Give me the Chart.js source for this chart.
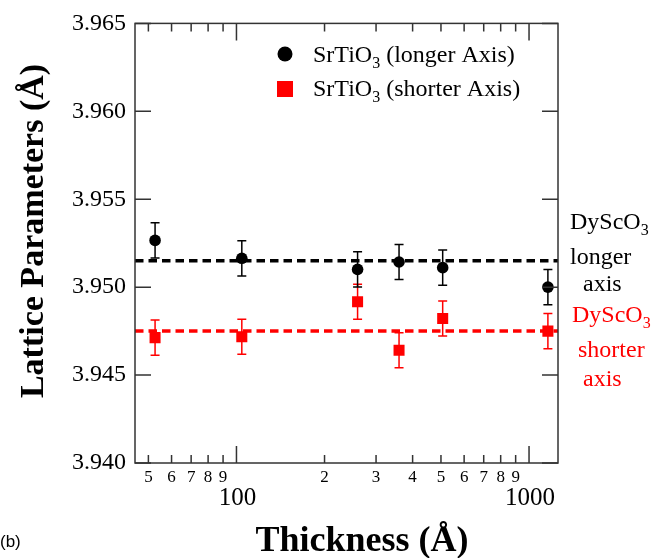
<!DOCTYPE html>
<html><head><meta charset="utf-8">
<script src="https://cdn.jsdelivr.net/npm/chart.js@4/dist/chart.umd.min.js"></script>
<style>html,body{margin:0;padding:0;background:#fff}canvas{display:block}</style>
</head><body>
<canvas id="c" width="663" height="558"></canvas>
<script>
// ---- data ----
const thickness   = [52.7, 104.3, 259.4, 359.5, 506.8, 1160];
const longerAxis  = [3.95266, 3.95164, 3.95101, 3.95143, 3.95111, 3.95000];
const longerErr   = [0.0010, 0.0010, 0.0010, 0.0010, 0.0010, 0.0010];
const shorterAxis = [3.94713, 3.94718, 3.94917, 3.94641, 3.94822, 3.94750];
const shorterErr  = [0.0010, 0.0010, 0.0010, 0.0010, 0.0010, 0.0010];
const dyscoLonger  = 3.9515;
const dyscoShorter = 3.9475;
const xRange = [45, 1256];
const yTicks = [3.940, 3.945, 3.950, 3.955, 3.960, 3.965];
const xMajorTicks  = [100, 1000];
const xMajorLabels = ['100', '1000'];
const xMinorTicks  = [50, 60, 70, 80, 90, 200, 300, 400, 500, 600, 700, 800, 900];
const xMinorLabels = ['5', '6', '7', '8', '9', '2', '3', '4', '5', '6', '7', '8', '9'];
const seriesLabels = ['SrTiO₃ (longer Axis)', 'SrTiO₃ (shorter Axis)'];
const refLabels = [['DyScO₃', 'longer', 'axis'], ['DyScO₃', 'shorter', 'axis']];
const xTitle = 'Thickness (Å)';
const yTitle = 'Lattice Parameters (Å)';
const panelLabel = '(b)';

const SERIF = '"Liberation Serif", "Times New Roman", serif';
const SANS = '"Liberation Sans", Arial, sans-serif';
const RED = '#ff0000';

function richWidth(ctx, str, size, bold) {
  let w = 0;
  for (const part of str.split(/(₃)/)) {
    if (!part) continue;
    if (part === '₃') { ctx.font = (bold ? 'bold ' : '') + Math.round(size * 0.66) + 'px ' + SERIF; w += ctx.measureText('3').width; }
    else { ctx.font = (bold ? 'bold ' : '') + size + 'px ' + SERIF; w += ctx.measureText(part).width; }
  }
  return w;
}
function drawRich(ctx, str, x, y, size, color, align) {
  ctx.save();
  ctx.fillStyle = color; ctx.textBaseline = 'alphabetic'; ctx.textAlign = 'left';
  let cx = x;
  if (align === 'center') cx = x - richWidth(ctx, str, size) / 2;
  for (const part of str.split(/(₃)/)) {
    if (!part) continue;
    if (part === '₃') {
      ctx.font = Math.round(size * 0.66) + 'px ' + SERIF;
      ctx.fillText('3', cx, y + size * 0.26);
      cx += ctx.measureText('3').width;
    } else {
      ctx.font = size + 'px ' + SERIF;
      ctx.fillText(part, cx, y);
      cx += ctx.measureText(part).width;
    }
  }
  ctx.restore();
}

const errorBars = {
  id: 'errorBars',
  beforeDatasetDraw(chart, args) {
    const ds = chart.data.datasets[args.index];
    if (!ds.errors) return;
    const ctx = chart.ctx, xs = chart.scales.x, ys = chart.scales.y;
    ctx.save();
    ctx.strokeStyle = ds.borderColor; ctx.lineWidth = 1.5;
    ds.data.forEach((p, i) => {
      const px = xs.getPixelForValue(p.x);
      const top = ys.getPixelForValue(p.y + ds.errors[i]);
      const bot = ys.getPixelForValue(p.y - ds.errors[i]);
      ctx.beginPath();
      ctx.moveTo(px, top); ctx.lineTo(px, bot);
      ctx.moveTo(px - 4.5, top); ctx.lineTo(px + 4.5, top);
      ctx.moveTo(px - 4.5, bot); ctx.lineTo(px + 4.5, bot);
      ctx.stroke();
    });
    ctx.restore();
  }
};

const decorations = {
  id: 'decorations',
  afterDraw(chart) {
    const ctx = chart.ctx, a = chart.chartArea, xs = chart.scales.x, ys = chart.scales.y;
    ctx.save();
    // frame
    ctx.strokeStyle = '#333'; ctx.lineWidth = 1.5;
    ctx.strokeRect(a.left, a.top, a.right - a.left, a.bottom - a.top);
    // y ticks (left + right, inward)
    ctx.beginPath();
    ys.ticks.forEach(t => {
      const py = ys.getPixelForValue(t.value);
      ctx.moveTo(a.left, py); ctx.lineTo(a.left + 16, py);
      ctx.moveTo(a.right, py); ctx.lineTo(a.right - 16, py);
    });
    // x ticks (bottom + top, inward)
    xMajorTicks.forEach(v => {
      const px = xs.getPixelForValue(v);
      ctx.moveTo(px, a.bottom); ctx.lineTo(px, a.bottom - 17);
      ctx.moveTo(px, a.top); ctx.lineTo(px, a.top + 17);
    });
    xMinorTicks.forEach(v => {
      const px = xs.getPixelForValue(v);
      ctx.moveTo(px, a.bottom); ctx.lineTo(px, a.bottom - 8);
      ctx.moveTo(px, a.top); ctx.lineTo(px, a.top + 8);
    });
    ctx.stroke();
    // x tick labels
    ctx.fillStyle = '#000'; ctx.textAlign = 'center'; ctx.textBaseline = 'alphabetic';
    ctx.font = '17px ' + SERIF;
    xMinorTicks.forEach((v, i) => ctx.fillText(xMinorLabels[i], xs.getPixelForValue(v), a.bottom + 19));
    ctx.font = '25px ' + SERIF;
    xMajorTicks.forEach((v, i) => ctx.fillText(xMajorLabels[i], xs.getPixelForValue(v) + 1, a.bottom + 42));
    // axis titles
    ctx.font = 'bold 36px ' + SERIF;
    ctx.fillText(xTitle, 362, 551);
    ctx.save();
    ctx.translate(43, 231); ctx.rotate(-Math.PI / 2);
    ctx.font = 'bold 34px ' + SERIF;
    ctx.fillText(yTitle, 0, 0);
    ctx.restore();
    // panel label
    ctx.textAlign = 'left'; ctx.font = '17px ' + SANS;
    ctx.fillText(panelLabel, 0, 547);
    // legend
    const ds0 = chart.data.datasets[0], ds1 = chart.data.datasets[1];
    ctx.fillStyle = ds0.backgroundColor;
    ctx.beginPath(); ctx.arc(285, 54, 7.5, 0, Math.PI * 2); ctx.fill();
    ctx.fillStyle = ds1.backgroundColor;
    ctx.fillRect(277, 81, 16, 16);
    drawRich(ctx, ds0.label, 313, 62, 24, '#000');
    drawRich(ctx, ds1.label, 313, 96, 24, '#000');
    // right-hand reference annotations
    drawRich(ctx, refLabels[0][0], 570, 229, 24, '#000');
    drawRich(ctx, refLabels[0][1], 570, 264, 24, '#000');
    drawRich(ctx, refLabels[0][2], 583, 291, 24, '#000');
    drawRich(ctx, refLabels[1][0], 572, 322, 24, RED);
    drawRich(ctx, refLabels[1][1], 578, 357, 24, RED);
    drawRich(ctx, refLabels[1][2], 583, 386, 24, RED);
    ctx.restore();
  }
};

new Chart(document.getElementById('c'), {
  type: 'scatter',
  data: {
    datasets: [
      {
        label: seriesLabels[0],
        data: thickness.map((t, i) => ({ x: t, y: longerAxis[i] })),
        errors: longerErr,
        pointStyle: 'circle', pointRadius: 5.8,
        backgroundColor: '#000', borderColor: '#000', borderWidth: 0,
        showLine: false
      },
      {
        label: seriesLabels[1],
        data: thickness.map((t, i) => ({ x: t, y: shorterAxis[i] })),
        errors: shorterErr,
        pointStyle: 'rect', pointRadius: 7.8,
        backgroundColor: RED, borderColor: RED, borderWidth: 0,
        showLine: false
      },
      {
        type: 'line', label: 'DyScO3 longer',
        data: [{ x: xRange[0], y: dyscoLonger }, { x: xRange[1], y: dyscoLonger }],
        borderColor: '#000', borderWidth: 3.5, borderDash: [8.5, 5], pointRadius: 0, fill: false
      },
      {
        type: 'line', label: 'DyScO3 shorter',
        data: [{ x: xRange[0], y: dyscoShorter }, { x: xRange[1], y: dyscoShorter }],
        borderColor: RED, borderWidth: 3.5, borderDash: [8.5, 5], pointRadius: 0, fill: false
      }
    ]
  },
  options: {
    responsive: false, animation: false, devicePixelRatio: 1,
    layout: { padding: { top: 22, right: 105, left: 0, bottom: 0 } },
    plugins: { legend: { display: false }, tooltip: { enabled: false } },
    scales: {
      x: {
        type: 'logarithmic', min: xRange[0], max: xRange[1],
        grid: { display: false, drawTicks: false }, border: { display: false },
        ticks: { display: false },
        afterFit: s => { s.height = 95; }
      },
      y: {
        type: 'linear', min: yTicks[0], max: yTicks[yTicks.length - 1],
        grid: { display: false, drawTicks: false }, border: { display: false },
        afterBuildTicks: s => { s.ticks = yTicks.map(v => ({ value: v })); },
        ticks: {
          color: '#000', padding: 9,
          font: { family: SERIF, size: 24 },
          callback: v => Number(v).toFixed(3)
        },
        afterFit: s => { s.width = 135; }
      }
    }
  },
  plugins: [errorBars, decorations]
});
</script>
</body></html>
